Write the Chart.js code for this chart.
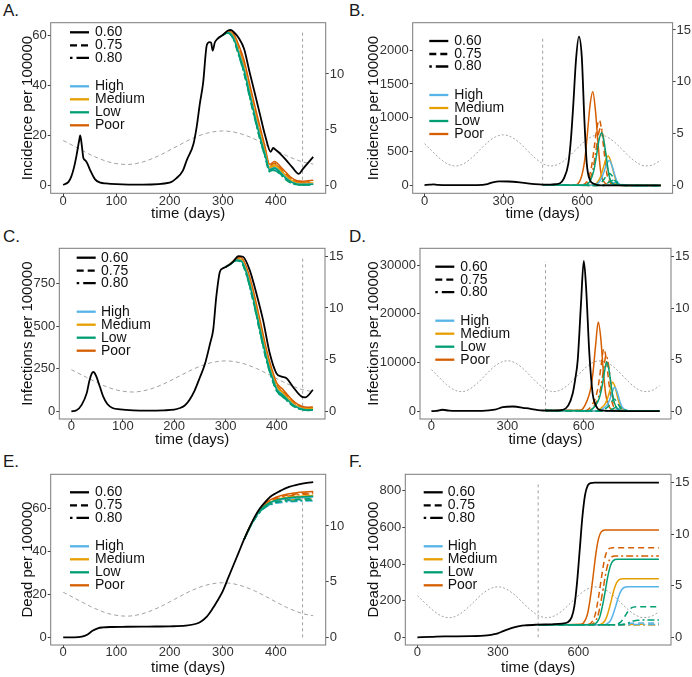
<!DOCTYPE html>
<html>
<head>
<meta charset="utf-8">
<script src="https://cdn.jsdelivr.net/npm/chart.js@4.4.1/dist/chart.umd.min.js"></script>
<style>
  body{margin:0;width:692px;height:677px;background:#fff;position:relative;overflow:hidden;
       font-family:"Liberation Sans",Arial,sans-serif}
  canvas{position:absolute}
  .tag{position:absolute;font-size:17px;color:#1a1a1a;line-height:1}
</style>
</head>
<body>
<div class="tag" style="left:3px;top:2px">A.</div>
<div class="tag" style="left:349px;top:2px">B.</div>
<div class="tag" style="left:3px;top:228px">C.</div>
<div class="tag" style="left:349px;top:228px">D.</div>
<div class="tag" style="left:3px;top:453px">E.</div>
<div class="tag" style="left:349px;top:453px">F.</div>
<canvas id="pA" width="346" height="225" style="left:0;top:0"></canvas>
<canvas id="pB" width="346" height="225" style="left:346px;top:0"></canvas>
<canvas id="pC" width="346" height="225" style="left:0;top:225px"></canvas>
<canvas id="pD" width="346" height="225" style="left:346px;top:225px"></canvas>
<canvas id="pE" width="346" height="227" style="left:0;top:450px"></canvas>
<canvas id="pF" width="346" height="227" style="left:346px;top:450px"></canvas>
<script>
/* ---------- seasonal curve (right axis) ---------- */
const season_t = [0,30,60,90,120,150,180,210,240,270,300,330,360,390,420,450,470,480,510,540,570,600,630,660,690,720,750,780,810,840,870,900];
const season   = [4.05,3.30,2.58,2.07,1.90,2.13,2.69,3.43,4.17,4.70,4.90,4.70,4.17,3.43,2.69,2.13,1.94,1.90,2.07,2.58,3.30,4.05,4.64,4.89,4.76,4.28,3.56,2.80,2.20,1.91,2.01,2.47];
const cutDay = 450;

/* ---------- tick labels ---------- */
const xTicksShort = [0,100,200,300,400];
const xTicksLong  = [0,300,600];
const rTicks      = [0,5,10,15];

/* ---------- A. incidence, 470 days ---------- */
const A_t     = [0,10,15,20,25,30,32,35,38,42,45,50,60,70,80,100,150,200,213,225,232,245,251,257,263,270,275,278,281,285,290,300,310,315,320,330,340,350,360,370,380,390,395,400,410,420,430,443,450,460,470];
const A_black = [0.3,1.5,3.5,7,12,18,20,16,11,10,9,6.5,2.5,1.2,0.9,0.6,0.4,1.2,3,6,10,16.7,23.5,32.8,40.8,56,57.2,57,53.8,57,58.5,60,61.8,62,61.3,58.8,54.5,45.6,37,28.3,19.7,13.5,15,14.2,12.3,10,7.5,4.7,6.5,9,11.5];
const A_tail_t = [300,310,320,330,340,350,360,370,380,388,397,410,420,430,440,450,460,470];
const A_poor60 = [60,61.5,60.5,56,50,41,32,23.5,15,8.5,9.6,7.2,5,3,2,1.8,2,2.2];
const A_poor75 = [60,61.3,60,55,48.5,39.5,30.5,22,14,7.9,8.9,6.5,4.3,2.5,1.5,1.4,1.5,1.6];
const A_poor80 = [60,61.2,59.8,54.5,48,39,30,21.5,13.6,7.6,8.6,6.2,4.1,2.3,1.4,1.3,1.3,1.4];
const A_med60  = [60,61.2,59.6,54,47.5,38.5,29.5,21,13.2,7.3,8.2,5.9,3.7,2,1.1,1,1,1.1];
const A_med75  = [60,61,59.2,53.5,47,38,29,20.5,12.7,6.9,7.7,5.4,3.3,1.7,0.9,0.8,0.8,0.9];
const A_med80  = [60,61,59,53.2,46.5,37.5,28.5,20,12.4,6.7,7.4,5.2,3.1,1.6,0.8,0.7,0.7,0.8];
const A_high60 = [60,61,59,53,46.3,37.3,28.3,19.8,12.2,6.5,7.2,5,2.9,1.4,0.7,0.6,0.6,0.7];
const A_high75 = [60,60.9,58.7,52.6,45.8,36.8,27.8,19.3,11.8,6.2,6.8,4.7,2.6,1.2,0.6,0.5,0.5,0.6];
const A_high80 = [60,60.9,58.6,52.4,45.6,36.6,27.6,19.1,11.6,6,6.6,4.5,2.5,1.1,0.5,0.4,0.4,0.5];
const A_low60  = [60,60.9,58.7,52.6,45.8,36.8,27.8,19.3,11.9,6.3,7,4.8,2.7,1.3,0.6,0.5,0.5,0.6];
const A_low75  = [60,60.8,58.4,52,45,36,27,18.6,11.3,5.8,6.3,4.3,2.3,1,0.4,0.3,0.3,0.4];
const A_low80  = [60,60.7,58.2,51.7,44.6,35.5,26.6,18.2,11,5.6,6,4.1,2.1,0.9,0.3,0.3,0.3,0.3];

/* ---------- B. incidence, 900 days ---------- */
const B_t     = [0,20,34,50,100,200,240,260,285,320,370,420,450,480,500,516,530,548,558,567,577,588,599,609,618,630,645,660,700,800,900];
const B_black = [10,15,20,12,8,10,25,50,64,62,45,22,15,15,22,35,100,330,700,1215,1854,2198,1903,969,330,84,30,10,5,4,4];
const B_poor60_t = [450,571,596,611,621,631,641,651,661,671,686,711,900];
const B_poor60   = [15,10,110,400,790,1205,1387,1110,625,210,45,8,4];
const B_poor75_t = [450,596,621,636,646,656,666,676,686,696,711,736,900];
const B_poor75   = [15,8,78,280,550,840,969,775,435,145,30,5,4];
const B_poor80_t = [450,602,627,642,652,662,672,682,692,702,717,742,900];
const B_poor80   = [15,8,70,250,490,750,860,690,390,130,26,5,4];
const B_low60_t  = [450,605,630,645,655,665,675,685,695,705,720,745,900];
const B_low60    = [15,8,63,225,445,680,782,625,350,117,23,5,4];
const B_med60_t  = [450,630,655,670,680,690,700,710,720,730,745,770,900];
const B_med60    = [15,6,35,127,250,380,438,350,197,66,13,3,3];
const B_high60_t = [450,634,659,674,684,694,704,714,724,734,749,774,900];
const B_high60   = [15,6,30,107,211,322,370,296,167,56,11,3,3];
const B_low75_t  = [450,635,660,675,685,695,705,715,725,735,750,775,900];
const B_low75    = [15,5,16,52,103,157,180,144,81,27,6,2,2];
const B_low80_t  = [450,650,675,690,700,710,720,730,740,750,765,790,900];
const B_low80    = [15,4,8,23,46,70,80,64,36,12,3,2,2];
const B_med75_t  = [450,655,680,695,705,715,725,735,745,755,770,795,900];
const B_med75    = [15,4,5,10,17,24,28,22,13,5,2,1,1];
const B_med80_t  = [450,665,690,705,715,725,735,745,755,765,780,805,900];
const B_med80    = [15,4,4,7,12,17,20,16,9,4,2,1,1];
const B_high75_t = [450,660,685,700,710,720,730,740,750,760,775,800,900];
const B_high75   = [15,4,5,14,28,43,50,40,22,8,2,1,1];
const B_high80_t = [450,670,695,710,720,730,740,750,760,770,785,810,900];
const B_high80   = [15,4,4,9,16,23,26,21,12,5,2,1,1];

/* ---------- C. infections, 470 days ---------- */
const C_t     = [0,10,20,30,35,40,43,48,55,62,70,80,95,120,150,180,200,210,220,230,240,250,260,270,276,282,289,295,302,315,325,334,347,360,373,386,399,409,419,431,448,455,470];
const C_black = [2,8,40,110,180,225,232,210,150,88,45,22,14,8,6,8,12,20,35,70,125,200,280,400,480,672,818,838,848,877,909,905,827,691,535,341,224,205,195,146,88,84,127];
const C_tail_t = [300,310,320,330,340,350,360,370,380,390,400,410,420,430,440,450,460,470];
const C_poor60 = [845,866,893,900,850,755,630,495,360,250,165,135,100,68,44,30,26,28];
const C_poor75 = [845,865,890,895,840,740,612,475,342,235,152,123,91,60,38,25,21,22];
const C_poor80 = [845,865,889,892,836,734,605,468,336,230,148,119,88,57,36,23,19,20];
const C_med60  = [845,864,888,890,832,728,598,460,330,225,144,115,84,54,33,21,17,18];
const C_med75  = [845,864,886,886,825,718,588,450,320,217,136,108,78,49,29,18,14,15];
const C_med80  = [845,863,885,884,822,714,583,445,316,213,133,105,75,46,27,16,12,13];
const C_high60 = [845,863,885,883,820,711,580,442,313,210,131,103,73,44,26,15,11,12];
const C_high75 = [845,863,884,880,815,705,573,435,306,204,126,98,69,41,23,13,10,10];
const C_high80 = [845,862,883,878,812,701,569,431,302,201,123,95,67,39,22,12,9,9];
const C_low60  = [845,863,884,881,817,707,575,437,308,206,128,100,71,42,24,14,10,11];
const C_low75  = [845,862,882,876,808,696,563,425,297,196,119,92,64,37,20,11,8,8];
const C_low80  = [845,862,881,873,804,690,557,419,291,192,116,89,62,35,19,10,7,7];

/* ---------- D. infections, 900 days ---------- */
const D_t     = [0,20,44,70,100,200,250,281,321,373,439,480,518,540,557,567,577,590,601,610,623,636,646,656,670,700,800,900];
const D_black = [0,50,300,100,50,60,300,823,967,617,144,120,290,1200,3580,6500,10430,22100,30864,25514,11800,3580,1500,494,150,50,20,20];
const D_poor60_t = [450,588,613,628,638,648,658,668,678,688,703,728,900];
const D_poor60   = [140,180,2010,4580,8240,13730,18313,15020,8240,3300,730,90,20];
const D_poor75_t = [450,610,635,650,660,670,680,690,700,710,725,750,900];
const D_poor75   = [140,130,1410,3210,5780,9630,12840,10530,5780,2310,510,60,20];
const D_poor80_t = [450,619,644,659,669,679,689,699,709,719,734,759,900];
const D_poor80   = [140,115,1260,2865,5160,8600,11460,9400,5160,2060,460,60,20];
const D_low60_t  = [450,621,646,661,671,681,691,701,711,721,736,761,900];
const D_low60    = [140,100,1110,2520,4540,7560,10080,8270,4540,1810,400,50,20];
const D_med60_t  = [450,645,670,685,695,705,715,725,735,745,760,785,900];
const D_med60    = [140,60,660,1490,2690,4480,5970,4900,2690,1070,240,30,20];
const D_high60_t = [450,652,677,692,702,712,722,732,742,752,767,792,900];
const D_high60   = [140,50,540,1235,2220,3700,4940,4050,2220,890,200,25,20];
const D_low75_t  = [450,650,675,690,700,710,720,730,740,750,765,790,900];
const D_low75    = [140,25,275,625,1125,1875,2500,2050,1125,450,100,15,10];
const D_low80_t  = [450,665,690,705,715,725,735,745,755,765,780,805,900];
const D_low80    = [140,10,110,250,450,750,1000,820,450,180,40,10,10];
const D_med75_t  = [450,670,695,710,720,730,740,750,760,770,785,810,900];
const D_med75    = [140,5,35,75,135,225,300,245,135,55,12,5,5];
const D_med80_t  = [450,680,705,720,730,740,750,760,770,780,795,820,900];
const D_med80    = [140,5,20,45,80,135,180,150,80,32,8,5,5];
const D_high75_t = [450,675,700,715,725,735,745,755,765,775,790,815,900];
const D_high75   = [140,6,66,150,270,450,600,490,270,110,24,5,5];
const D_high80_t = [450,685,710,725,735,745,755,765,775,785,800,825,900];
const D_high80   = [140,5,28,62,112,188,250,205,112,45,10,5,5];

/* ---------- E. deaths, 470 days ---------- */
const E_t     = [0,20,35,45,55,65,75,90,120,160,200,230,250,260,270,280,290,300,310,320,330,340,350,360,370,380,390,400,420,445,470];
const E_black = [0,0,0.3,1.2,3,4.2,4.6,4.8,4.9,5,5.1,5.4,6.3,7.5,9.6,13,17,21.5,27.5,33.5,39.5,45.5,51,56,60,63,65.5,67,69.5,71.2,72.2];
const E_tail_t = [340,350,360,370,380,390,400,420,445,470];
const E_poor60 = [45.5,50.9,55.7,59.5,62.2,64,65.2,66.5,67.4,67.8];
const E_poor75 = [45.5,50.9,55.6,59.3,61.9,63.6,64.7,66,66.9,67.3];
const E_poor80 = [45.5,50.8,55.5,59.1,61.6,63.2,64.3,65.5,66.4,66.8];
const E_med60  = [45.5,50.8,55.4,59,61.4,62.9,63.9,65,65.6,65.9];
const E_med75  = [45.5,50.7,55.2,58.7,61,62.4,63.3,64.2,64.7,65];
const E_med80  = [45.5,50.7,55.1,58.5,60.7,62.1,62.9,63.7,64.1,64.3];
const E_high60 = [45.5,50.7,55.2,58.8,61.1,62.6,63.5,64.4,64.9,65.2];
const E_high75 = [45.5,50.6,55,58.4,60.6,61.9,62.7,63.4,63.8,64];
const E_high80 = [45.5,50.6,54.9,58.2,60.3,61.6,62.3,62.9,63.2,63.4];
const E_low60  = [45.5,50.7,55.3,58.9,61.3,62.8,63.8,64.8,65.3,65.6];
const E_low75  = [45.5,50.6,55.1,58.5,60.8,62.2,63,63.8,64.2,64.5];
const E_low80  = [45.5,50.6,55,58.3,60.5,61.8,62.6,63.3,63.6,63.8];

/* ---------- F. deaths, 900 days ---------- */
const F_t     = [0,50,100,200,260,280,300,320,340,360,380,400,450,500,540,560,575,585,595,605,615,625,635,645,660,900];
const F_black = [0,2,5,6,10,15,22,34,45,54,61,65,69,71,75,82,110,170,300,480,660,780,830,843,845,845];
const F_poor60_t = [450,610,625,635,645,655,665,675,685,700,900];
const F_poor60   = [68,71,92,134,222,336,456,539,576,586,586];
const F_poor75_t = [450,637,652,662,672,682,692,702,712,727,900];
const F_poor75   = [68,70,87,121,193,286,384,452,482,490,490];
const F_poor80_t = [450,647,662,672,682,692,702,712,722,737,900];
const F_poor80   = [68,70,85,115,179,263,350,410,436,444,444];
const F_low60_t  = [450,655,670,680,690,700,710,720,730,745,900];
const F_low60    = [68,70,84,113,174,253,336,394,419,426,426];
const F_med60_t  = [450,677,692,702,712,722,732,742,752,767,900];
const F_med60    = [68,69,79,99,142,198,257,297,315,320,320];
const F_high60_t = [450,695,710,720,730,740,750,760,770,785,900];
const F_high60   = [68,68,77,93,129,175,224,257,272,276,276];
const F_low75_t  = [450,730,745,755,765,775,785,795,805,820,900];
const F_low75    = [68,68,72,80,96,119,142,158,165,167,167];
const F_low80_t  = [450,745,760,770,780,790,800,810,820,835,900];
const F_low80    = [68,68,69,71,75,81,87,91,93,94,94];
const F_high75_t = [450,735,750,760,770,780,790,800,810,825,900];
const F_high75   = [68,68,69,70,72,74,76,77,78,78,78];
const F_high80_t = [450,750,790,830,900];
const F_high80   = [68,68,69,70,70];
const F_med75_t  = [450,730,775,820,900];
const F_med75    = [68,68,69,71,71];
const F_med80_t  = [450,900];
const F_med80    = [67,67];

/* ---------- styles ---------- */
const COL  = {High:'#56B4E9', Medium:'#E69F00', Low:'#009E73', Poor:'#D55E00'};
const DASH = {'0.60':[], '0.75':[6,4], '0.80':[2,3,7,3]};
const FONT = '"Liberation Sans", Arial, sans-serif';
Chart.defaults.font.family = FONT;

const xy = (t, v) => t.map((d, i) => ({x: d, y: v[i]}));

/* cuadro + leyenda dentro del panel */
const frame = {
  id: 'frame',
  afterDatasetsDraw(c, args, o) {
    const {left, top, right, bottom} = c.chartArea;
    const g = c.ctx;
    g.save();
    g.strokeStyle = '#7a7a7a'; g.lineWidth = 1;
    g.strokeRect(left, top, right - left, bottom - top);
    const rows = [
      ['#000', [], '0.60'], ['#000', [7,4], '0.75'], ['#000', [2.5,4,13,0], '0.80'],
      [COL.High, [], 'High'], [COL.Medium, [], 'Medium'], [COL.Low, [], 'Low'], [COL.Poor, [], 'Poor']
    ];
    const dy = [0, 13, 25.5, 54, 67, 80, 93];
    g.font = '14px ' + FONT; g.textBaseline = 'middle'; g.fillStyle = '#111';
    rows.forEach(([col, dash, txt], i) => {
      const y = top + o.leg[2] + dy[i];
      g.strokeStyle = col; g.lineWidth = 2.3; g.setLineDash(dash);
      g.beginPath(); g.moveTo(left + o.leg[0], y); g.lineTo(left + o.leg[0] + 19, y); g.stroke();
      g.setLineDash([]);
      g.fillText(txt, left + o.leg[1], y);
    });
    g.restore();
  }
};

function panel(id, cfg) {
  const ds = [{data: xy(cfg.t, cfg.black), borderColor: '#000', borderWidth: 1.8, yAxisID: 'y'}];
  cfg.lines.forEach(([grp, eff, t, v]) => ds.push({
    data: xy(t, v), borderColor: COL[grp], borderDash: DASH[eff], borderWidth: 1.5, yAxisID: 'y'
  }));
  ds.push({data: [{x: cutDay, y: 0}, {x: cutDay, y: cfg.cutTop}], borderColor: '#a0a0a0',
           borderDash: [3,3], borderWidth: 1, yAxisID: 'y', cubicInterpolationMode: 'default', tension: 0});
  const st = season_t.filter(d => d <= cfg.x[1]);
  ds.push({data: xy(st, season), borderColor: '#a3a3a3', borderDash: cfg.sDash,
           borderWidth: 1, yAxisID: 'y2'});

  const lbl = v => String(v);
  const tkX = {color: '#333', font: {size: 13}, padding: -3, callback: lbl};
  const tkY = {color: '#333', font: {size: 13}, padding: 1, callback: lbl};
  const grid = {display: true, drawOnChartArea: false, drawTicks: true, tickLength: 3, tickColor: '#444'};
  new Chart(document.getElementById(id), {
    type: 'line',
    data: {datasets: ds},
    options: {
      responsive: false, animation: false, events: [],
      layout: {padding: {top: cfg.top, left: 0, right: 0, bottom: 0}},
      elements: {point: {radius: 0}, line: {cubicInterpolationMode: 'monotone', fill: false}},
      plugins: {legend: {display: false}, tooltip: {enabled: false}, frame: {leg: cfg.leg}},
      scales: {
        x: {type: 'linear', min: cfg.x[0], max: cfg.x[1] === 470 ? 493.5 : 945,
            afterBuildTicks: s => { s.ticks = cfg.xt.map(v => ({value: v})); },
            afterFit: s => { s.height = cfg.xh; },
            ticks: tkX, grid, border: {display: false},
            title: {display: true, text: 'time (days)', color: '#111', font: {size: 15},
                    padding: {top: 0, bottom: cfg.xp}}},
        y: {type: 'linear', position: 'left', min: cfg.y[0], max: cfg.y[1],
            afterBuildTicks: s => { s.ticks = cfg.yt.map(v => ({value: v})); },
            afterFit: s => { s.width = cfg.lw; },
            ticks: tkY, grid, border: {display: false},
            title: {display: true, text: cfg.title, color: '#111', font: {size: 15},
                    padding: {top: 19, bottom: 0}}},
        y2: {type: 'linear', position: 'right', min: cfg.y2[0], max: cfg.y2[1],
            afterBuildTicks: s => { s.ticks = rTicks.filter(v => v <= cfg.y2[1]).map(v => ({value: v})); },
            afterFit: s => { s.width = cfg.rw; },
            ticks: tkY, grid, border: {display: false}}
      }
    },
    plugins: [frame]
  });
}

panel('pA', {t: A_t, black: A_black, x: [-23.5, 470], xt: xTicksShort, y: [-3.03, 64.9], yt: [0,20,40,60],
  y2: [-0.68, 14.59], title: 'Incidence per 100000', cutTop: 62, lw: 50.7, rw: 20.3, xh: 31.7, xp: 2, top: 22.7,
  leg: [19.3, 44.3, 9.6], sDash: [4,3],
  lines: [['Low','0.80',A_tail_t,A_low80],['Low','0.75',A_tail_t,A_low75],['Low','0.60',A_tail_t,A_low60],
          ['High','0.80',A_tail_t,A_high80],['High','0.75',A_tail_t,A_high75],['High','0.60',A_tail_t,A_high60],
          ['Medium','0.80',A_tail_t,A_med80],['Medium','0.75',A_tail_t,A_med75],['Medium','0.60',A_tail_t,A_med60],
          ['Poor','0.80',A_tail_t,A_poor80],['Poor','0.75',A_tail_t,A_poor75],['Poor','0.60',A_tail_t,A_poor60]]});

panel('pB', {t: B_t, black: B_black, x: [-45, 900], xt: xTicksLong, y: [-112, 2404], yt: [0,500,1000,1500,2000],
  y2: [-0.73, 15.70], title: 'Incidence per 100000', cutTop: 2198, lw: 66.7, rw: 19.4, xh: 31.7, xp: 2, top: 22.7,
  leg: [16.6, 41.6, 18.3], sDash: [2,2],
  lines: [['Low','0.60',B_low60_t,B_low60],['Low','0.75',B_low75_t,B_low75],['Low','0.80',B_low80_t,B_low80],
          ['High','0.60',B_high60_t,B_high60],['High','0.75',B_high75_t,B_high75],['High','0.80',B_high80_t,B_high80],
          ['Medium','0.60',B_med60_t,B_med60],['Medium','0.75',B_med75_t,B_med75],['Medium','0.80',B_med80_t,B_med80],
          ['Poor','0.60',B_poor60_t,B_poor60],['Poor','0.75',B_poor75_t,B_poor75],['Poor','0.80',B_poor80_t,B_poor80]]});

panel('pC', {t: C_t, black: C_black, x: [-23.5, 470], xt: xTicksShort, y: [-42.6, 954.4], yt: [0,250,500,750],
  y2: [-0.70, 15.75], title: 'Infections per 100000', cutTop: 909, lw: 59.3, rw: 21, xh: 31, xp: 1, top: 23.3,
  leg: [17.4, 41.7, 9.4], sDash: [4,3],
  lines: [['Low','0.80',C_tail_t,C_low80],['Low','0.75',C_tail_t,C_low75],['Low','0.60',C_tail_t,C_low60],
          ['High','0.80',C_tail_t,C_high80],['High','0.75',C_tail_t,C_high75],['High','0.60',C_tail_t,C_high60],
          ['Medium','0.80',C_tail_t,C_med80],['Medium','0.75',C_tail_t,C_med75],['Medium','0.60',C_tail_t,C_med60],
          ['Poor','0.80',C_tail_t,C_poor80],['Poor','0.75',C_tail_t,C_poor75],['Poor','0.60',C_tail_t,C_poor60]]});

panel('pD', {t: D_t, black: D_black, x: [-45, 900], xt: xTicksLong, y: [-1602, 33450], yt: [0,10000,20000,30000],
  y2: [-0.757, 15.82], title: 'Infections per 100000', cutTop: 30864, lw: 74, rw: 21, xh: 31, xp: 1, top: 23.3,
  leg: [15.3, 40.3, 18.4], sDash: [2,2],
  lines: [['Low','0.60',D_low60_t,D_low60],['Low','0.75',D_low75_t,D_low75],['Low','0.80',D_low80_t,D_low80],
          ['High','0.60',D_high60_t,D_high60],['High','0.75',D_high75_t,D_high75],['High','0.80',D_high80_t,D_high80],
          ['Medium','0.60',D_med60_t,D_med60],['Medium','0.75',D_med75_t,D_med75],['Medium','0.80',D_med80_t,D_med80],
          ['Poor','0.60',D_poor60_t,D_poor60],['Poor','0.75',D_poor75_t,D_poor75],['Poor','0.80',D_poor80_t,D_poor80]]});

panel('pE', {t: E_t, black: E_black, x: [-23.5, 470], xt: xTicksShort, y: [-3.58, 75.8], yt: [0,20,40,60],
  y2: [-0.69, 14.64], title: 'Dead per 100000', cutTop: 67, lw: 50.7, rw: 20.3, xh: 32, xp: 0, top: 24.3,
  leg: [19.3, 44.3, 18], sDash: [4,3],
  lines: [['Low','0.80',E_tail_t,E_low80],['Low','0.75',E_tail_t,E_low75],['Low','0.60',E_tail_t,E_low60],
          ['High','0.80',E_tail_t,E_high80],['High','0.75',E_tail_t,E_high75],['High','0.60',E_tail_t,E_high60],
          ['Medium','0.80',E_tail_t,E_med80],['Medium','0.75',E_tail_t,E_med75],['Medium','0.60',E_tail_t,E_med60],
          ['Poor','0.80',E_tail_t,E_poor80],['Poor','0.75',E_tail_t,E_poor75],['Poor','0.60',E_tail_t,E_poor60]]});

panel('pF', {t: F_t, black: F_black, x: [-45, 900], xt: xTicksLong, y: [-42.1, 890.7], yt: [0,200,400,600,800],
  y2: [-0.75, 15.83], title: 'Dead per 100000', cutTop: 845, lw: 59.3, rw: 21, xh: 32, xp: 0, top: 24.3,
  leg: [18.4, 42.4, 18], sDash: [2,2],
  lines: [['Low','0.60',F_low60_t,F_low60],['Low','0.75',F_low75_t,F_low75],['Low','0.80',F_low80_t,F_low80],
          ['High','0.60',F_high60_t,F_high60],['High','0.75',F_high75_t,F_high75],['High','0.80',F_high80_t,F_high80],
          ['Medium','0.60',F_med60_t,F_med60],['Medium','0.75',F_med75_t,F_med75],['Medium','0.80',F_med80_t,F_med80],
          ['Poor','0.60',F_poor60_t,F_poor60],['Poor','0.75',F_poor75_t,F_poor75],['Poor','0.80',F_poor80_t,F_poor80]]});
</script>
</body>
</html>
